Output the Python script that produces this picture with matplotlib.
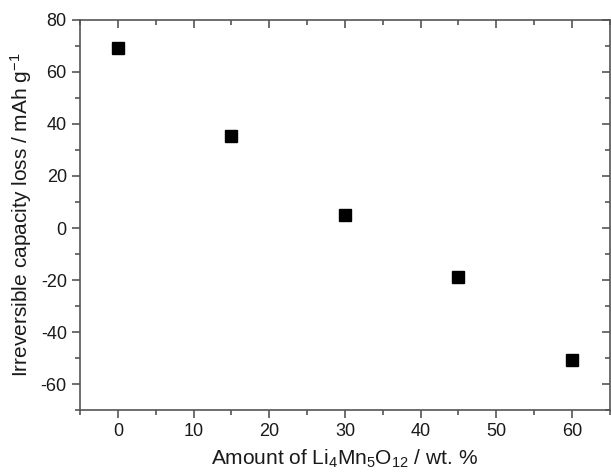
import matplotlib
matplotlib.use("Agg")
import matplotlib.pyplot as plt
from matplotlib.ticker import MultipleLocator

plt.rcParams['font.family'] = ['Liberation Sans', 'DejaVu Sans']
plt.rcParams['mathtext.fontset'] = 'custom'
plt.rcParams['mathtext.rm'] = 'Liberation Sans'
plt.rcParams['mathtext.it'] = 'Liberation Sans'
plt.rcParams['axes.unicode_minus'] = False

amount = [0, 15, 30, 45, 60]
loss = [69.1, 35.4, 5.0, -18.7, -50.6]

fig = plt.figure(figsize=(6.11, 4.72), dpi=100)
ax = fig.add_axes([0.131, 0.131, 0.867, 0.827])
ax.plot(amount, loss, 's', color='black', markersize=8.6, linestyle='none')

ax.set_xlim(-5, 65)
ax.set_ylim(-70, 80)
ax.xaxis.set_major_locator(MultipleLocator(10))
ax.xaxis.set_minor_locator(MultipleLocator(5))
ax.yaxis.set_major_locator(MultipleLocator(20))
ax.yaxis.set_minor_locator(MultipleLocator(10))

for s in ax.spines.values():
    s.set_color('#555555')
    s.set_linewidth(1.2)

ax.tick_params(which='both', colors='#555555', labelcolor='#1a1a1a', labelsize=13, width=1.2)
ax.tick_params(which='major', length=6)
ax.tick_params(which='minor', length=3.5)
ax.tick_params(which='both', bottom=True, left=True, direction='out')
ax.tick_params(which='both', top=True, right=True, labeltop=False, labelright=False)
for tick in ax.xaxis.get_major_ticks() + ax.xaxis.get_minor_ticks():
    tick.tick2line.set_marker(matplotlib.lines.TICKDOWN)
for tick in ax.yaxis.get_major_ticks() + ax.yaxis.get_minor_ticks():
    tick.tick2line.set_marker(matplotlib.lines.TICKLEFT)

ax.set_xlabel(r'Amount of Li$_4$Mn$_5$O$_{12}$ / wt. %', fontsize=15, color='#1a1a1a', labelpad=5)
ax.set_ylabel(r'Irreversible capacity loss / mAh g$^{-1}$', fontsize=15, color='#1a1a1a', labelpad=5)

fig.savefig('out.png', dpi=100)
